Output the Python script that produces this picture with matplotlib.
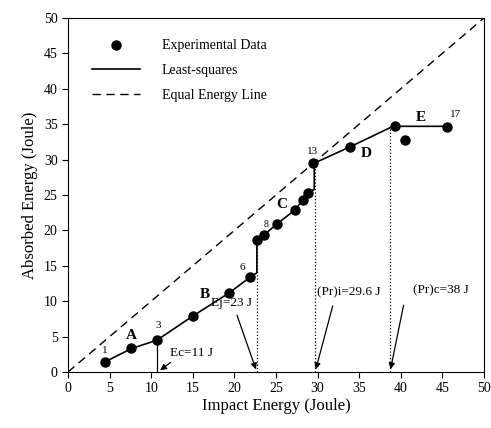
import numpy as np
import matplotlib
matplotlib.use('Agg')
from matplotlib import pyplot as plt

plt.rcParams['font.family'] = ['Liberation Serif', 'DejaVu Serif']

# experimental data (17 points)
exp_x = [4.4, 7.6, 10.7, 15.0, 19.4, 21.9, 22.7, 23.6, 25.1, 27.3, 28.2, 28.8, 29.5, 33.9, 39.3, 40.5, 45.6]
exp_y = [1.4, 3.4, 4.5, 7.9, 11.2, 13.4, 18.6, 19.4, 20.9, 22.9, 24.3, 25.3, 29.5, 31.8, 34.7, 32.8, 34.6]

# least-squares piecewise fit
fit_x = [4.4, 7.6, 10.7, 15.0, 19.4, 21.9, 22.7, 22.7, 23.6, 25.1, 27.3, 28.2, 28.8, 29.6, 29.6, 33.9, 38.7, 39.3, 45.6]
fit_y = [1.4, 3.3, 4.5, 7.9, 11.2, 13.4, 14.0, 18.6, 19.4, 20.9, 22.9, 24.3, 25.3, 25.8, 29.5, 31.8, 34.5, 34.7, 34.7]

# vertical marker lines: x, top y, style
vlines_x = [10.7, 22.7, 29.7, 38.7]
vlines_top = [4.5, 18.6, 29.5, 34.5]
vlines_ls = ['-', ':', ':', ':']

# point / region labels
lab_txt = ['1', 'A', '3', 'B', '6', '8', 'C', '13', 'D', 'E', '17']
lab_x = [4.4, 7.6, 10.8, 16.5, 21.0, 23.8, 25.7, 29.4, 35.8, 42.4, 46.6]
lab_y = [3.1, 5.2, 6.5, 11.0, 14.7, 20.9, 23.7, 31.1, 30.9, 36.0, 36.3]
lab_size = [8, 11, 8, 11, 8, 7, 11, 8, 11, 11, 8]

# annotations
ann_txt = ['Ec=11 J', 'Ej=23 J', '(Pr)i=29.6 J', '(Pr)c=38 J']
ann_tip = [(10.8, 0), (22.7, 0), (29.7, 0), (38.7, 0)]
ann_txy = [(14.8, 2.7), (19.6, 9.7), (33.8, 11.2), (44.8, 11.6)]
ann_start = [(12.6, 1.6), (20.2, 8.4), (31.9, 9.7), (40.4, 9.8)]

fig = plt.figure(figsize=(4.91, 4.28), dpi=100)
ax = fig.add_axes([0.1385, 0.1308, 0.8472, 0.8272])

ax.plot([0, 50], [0, 50], color='k', ls=(0, (6, 4)), lw=1.0, label='Equal Energy Line')
ax.plot(fit_x, fit_y, color='k', lw=1.2, label='Least-squares')
ax.plot(exp_x, exp_y, 'o', color='k', ms=6.5, label='Experimental Data')

for x, t, s in zip(vlines_x, vlines_top, vlines_ls):
    ax.plot([x, x], [0, t], color='k', ls=s, lw=0.9)

for t, x, y, s in zip(lab_txt, lab_x, lab_y, lab_size):
    w = 'bold' if t.isalpha() else 'normal'
    ax.text(x, y, t, ha='center', va='center', fontsize=s, fontweight=w)

for t, tip, txy, st in zip(ann_txt, ann_tip, ann_txy, ann_start):
    ax.text(txy[0], txy[1], t, ha='center', va='center', fontsize=9.5)
    ax.annotate('', xy=tip, xytext=st,
                arrowprops=dict(arrowstyle='-|>', color='k', lw=0.9, mutation_scale=9))

ax.set_xlim(0, 50)
ax.set_ylim(0, 50)
ax.set_xticks(range(0, 51, 5))
ax.set_yticks(range(0, 51, 5))
ax.tick_params(direction='out', length=4, labelsize=10)
ax.set_xlabel('Impact Energy (Joule)', fontsize=12, labelpad=2)
ax.set_ylabel('Absorbed Energy (Joule)', fontsize=12, labelpad=4)

h, l = ax.get_legend_handles_labels()
ax.legend(h[::-1], l[::-1], loc='upper left', bbox_to_anchor=(0.045, 0.955),
          frameon=False, fontsize=10, handlelength=3.4, handletextpad=1.6,
          borderaxespad=0.0, labelspacing=0.85)

fig.savefig('out.png', dpi=100)
